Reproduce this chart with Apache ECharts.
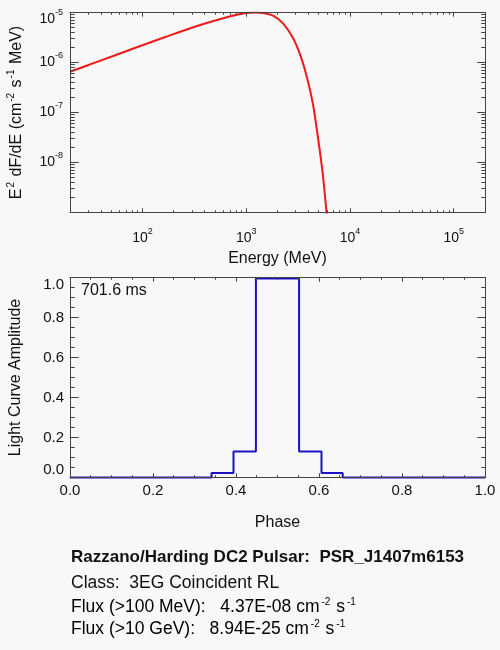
<!DOCTYPE html>
<html>
<head>
<meta charset="utf-8">
<script src="https://cdn.jsdelivr.net/npm/echarts@6/dist/echarts.min.js"></script>
<style>
  html, body { margin: 0; padding: 0; background: #f8f8f8; }
  #chart { width: 500px; height: 650px; }
</style>
</head>
<body>
<div id="chart"></div>
<script>
// spectrum (MeV, MeV cm^-2 s^-1)
var energy = [20, 37, 78, 163, 342, 718, 873, 1000, 1220, 1500, 1810, 2260, 2830, 3400, 3940, 4410, 4920, 5430, 5930, 6300];
var e2dnde = [6.55e-7, 1.04e-6, 1.84e-6, 3.19e-6, 5.44e-6, 8.5e-6, 9.3e-6, 9.77e-6, 1.0e-5, 9.7e-6, 8.63e-6, 6.08e-6, 3.05e-6, 1.21e-6, 4.13e-7, 1.41e-7, 3.05e-8, 6.55e-9, 1.04e-9, 2.5e-10];

// light curve steps
var phase = [0, 0.341, 0.394, 0.448, 0.552, 0.606, 0.657, 1.0];
var amplitude = [0, 0.023, 0.13, 0.995, 0.13, 0.023, 0, 0];

var periodText = "701.6 ms";
var infoTitle = "Razzano/Harding DC2 Pulsar:  PSR_J1407m6153";
var infoClass = "Class:  3EG Coincident RL";
var fluxLow = ["Flux (>100 MeV):", "4.37E-08"];
var fluxHigh = ["Flux (>10 GeV):", "8.94E-25"];

var FONT = "'Liberation Sans', Arial, Helvetica, sans-serif";
var INK = "#111";
var AXIS = "#444";

var myChart = echarts.init(document.getElementById("chart"));

function zip(xs, ys) {
  var out = [];
  for (var i = 0; i < xs.length; i++) {
    out.push([xs[i], ys[i]]);
  }
  return out;
}

function copyInto(target, src) {
  for (var k in src) {
    target[k] = src[k];
  }
  return target;
}

function powerLabel(value) {
  var e = Math.round(Math.log(value) / Math.LN10);
  if (Math.abs(value / Math.pow(10, e) - 1) > 1e-6) {
    return "";
  }
  return "{b|10}{s|" + e + "}";
}

var powerRich = {
  b: { fontSize: 14, lineHeight: 14, fontFamily: FONT, color: INK, verticalAlign: "bottom" },
  s: { fontSize: 9, lineHeight: 9, padding: [0, 0, 9, 0], fontFamily: FONT, color: INK, verticalAlign: "bottom" }
};

function frameAxis(scale, gridIndex, position) {
  return copyInto({
    gridIndex: gridIndex,
    position: position,
    axisLine: { show: true, onZero: false, lineStyle: { color: AXIS, width: 1 } },
    axisTick: { show: false },
    minorTick: { show: false },
    splitLine: { show: false },
    axisLabel: { show: false }
  }, scale);
}

// top panel scales
var xLog = { type: "log", logBase: 10, min: 20, max: 2e5 };
var yLog = { type: "log", logBase: 10, min: 1e-9, max: 1e-5 };
// bottom panel scales
var xLin = { type: "value", min: 0, max: 1, interval: 0.2 };
var yLin = { type: "value", min: 0, max: 1, interval: 0.2 };

function oneDecimal(v) {
  return v.toFixed(1);
}

var xTop = frameAxis(xLog, 0, "bottom");
xTop.axisLabel = { show: true, margin: 19, formatter: powerLabel, rich: powerRich, showMinLabel: false, showMaxLabel: false };
xTop.name = "Energy (MeV)";
xTop.nameLocation = "middle";
xTop.nameGap = 38;
xTop.nameTextStyle = { fontSize: 16, fontFamily: FONT, color: INK };

var yTop = frameAxis(yLog, 0, "left");
yTop.axisLabel = { show: true, margin: 7, formatter: powerLabel, rich: powerRich, showMinLabel: false, verticalAlignMaxLabel: "top" };
yTop.name = "{a|E}{s|2}{a| dF/dE (cm}{s|-2}{a| s}{s|-1}{a| MeV)}";
yTop.nameLocation = "middle";
yTop.nameGap = 45;
yTop.nameTextStyle = {
  rich: {
    a: { fontSize: 16, lineHeight: 16, fontFamily: FONT, color: INK, verticalAlign: "bottom" },
    s: { fontSize: 10, lineHeight: 10, padding: [0, 1, 9, 1], fontFamily: FONT, color: INK, verticalAlign: "bottom" }
  }
};

var xBot = frameAxis(xLin, 1, "bottom");
xBot.axisLabel = { show: true, margin: 6, formatter: oneDecimal, fontSize: 15, fontFamily: FONT, color: INK };
xBot.name = "Phase";
xBot.nameLocation = "middle";
xBot.nameGap = 37;
xBot.nameTextStyle = { fontSize: 16, fontFamily: FONT, color: INK };

var yBot = frameAxis(yLin, 1, "left");
yBot.axisLabel = {
  show: true, margin: 6, formatter: oneDecimal, fontSize: 15, fontFamily: FONT, color: INK,
  verticalAlignMaxLabel: "top", verticalAlignMinLabel: "bottom"
};
yBot.name = "Light Curve Amplitude";
yBot.nameLocation = "middle";
yBot.nameGap = 46;
yBot.nameTextStyle = { fontSize: 16, fontFamily: FONT, color: INK };

var supRich = {
  s: { fontSize: 10, lineHeight: 10, padding: [0, 1, 9, 2], fontFamily: FONT, color: INK, verticalAlign: "bottom" },
  t: { fontSize: 17.5, lineHeight: 17.5, fontFamily: FONT, color: INK, verticalAlign: "bottom" }
};

function fluxLine(parts) {
  return "{t|" + parts[0] + "   " + parts[1] + " cm}{s|-2}{t| s}{s|-1}";
}

var texts = [
  { type: "text", left: 81, top: 283, style: { text: periodText, font: "16px " + FONT, fill: INK } },
  { type: "text", left: 71, top: 549, style: { text: infoTitle, font: "bold 17px " + FONT, fill: INK } },
  { type: "text", left: 71, top: 574, style: { text: infoClass, font: "17.5px " + FONT, fill: INK } },
  { type: "text", left: 71, top: 597, style: { text: fluxLine(fluxLow), rich: supRich } },
  { type: "text", left: 71, top: 619, style: { text: fluxLine(fluxHigh), rich: supRich } }
];

var option = {
  backgroundColor: "#f8f8f8",
  animation: false,
  grid: [
    { left: 70, width: 415, top: 12.5, height: 200, outerBoundsMode: "none" },
    { left: 70, width: 415, top: 277.5, height: 200, outerBoundsMode: "none" }
  ],
  xAxis: [xTop, xBot, frameAxis(xLog, 0, "top"), frameAxis(xLin, 1, "top")],
  yAxis: [yTop, yBot, frameAxis(yLog, 0, "right"), frameAxis(yLin, 1, "right")],
  series: [
    {
      type: "line",
      xAxisIndex: 0,
      yAxisIndex: 0,
      data: zip(energy, e2dnde),
      smooth: 0.3,
      showSymbol: false,
      clip: true,
      z: 5,
      lineStyle: { color: "#f01818", width: 2 }
    },
    {
      type: "line",
      xAxisIndex: 1,
      yAxisIndex: 1,
      data: zip(phase, amplitude),
      step: "end",
      showSymbol: false,
      clip: false,
      z: 5,
      lineStyle: { color: "#1c12c4", width: 2 }
    }
  ],
  graphic: texts
};

myChart.setOption(option);

// IDL style ticks on all four sides, pointing into the box: [value, isMajor]
function logTicks(lo, hi) {
  var out = [];
  var n0 = Math.floor(Math.log(lo) / Math.LN10);
  var n1 = Math.ceil(Math.log(hi) / Math.LN10);
  for (var n = n0; n <= n1; n++) {
    for (var k = 1; k <= 9; k++) {
      var v = k * Math.pow(10, n);
      if (v > lo * 1.001 && v < hi * 0.999) out.push([v, k === 1]);
    }
  }
  return out;
}

function linTicks(lo, hi, minorStep, majorEvery) {
  var out = [];
  var count = Math.round((hi - lo) / minorStep);
  for (var i = 1; i < count; i++) {
    out.push([lo + i * minorStep, i % majorEvery === 0]);
  }
  return out;
}

function crisp(v) {
  return Math.round(v - 0.5) + 0.5;
}

// one polyline per side: runs along the border and spikes in at each tick
function sideLine(marks, horizontal, base, sign, start, end) {
  var pts = [];
  pts.push(horizontal ? [start, base] : [base, start]);
  for (var i = 0; i < marks.length; i++) {
    var p = marks[i][0];
    var tip = base + sign * marks[i][1];
    if (horizontal) {
      pts.push([p, base], [p, tip], [p, base]);
    } else {
      pts.push([base, p], [tip, p], [base, p]);
    }
  }
  pts.push(horizontal ? [end, base] : [base, end]);
  return {
    type: "polyline",
    silent: true,
    z: 50,
    shape: { points: pts },
    style: { fill: null, stroke: AXIS, lineWidth: 1, lineJoin: "bevel" }
  };
}

function boxTicks(xi, yi, xr, yr, xTicks, yTicks, xLen, yLen) {
  var left = crisp(myChart.convertToPixel({ xAxisIndex: xi }, xr[0]));
  var right = crisp(myChart.convertToPixel({ xAxisIndex: xi }, xr[1]));
  var bottom = crisp(myChart.convertToPixel({ yAxisIndex: yi }, yr[0]));
  var top = crisp(myChart.convertToPixel({ yAxisIndex: yi }, yr[1]));
  var xm = [];
  var ym = [];
  for (var i = 0; i < xTicks.length; i++) {
    xm.push([crisp(myChart.convertToPixel({ xAxisIndex: xi }, xTicks[i][0])), xTicks[i][1] ? xLen : xLen / 2]);
  }
  for (var j = 0; j < yTicks.length; j++) {
    ym.push([crisp(myChart.convertToPixel({ yAxisIndex: yi }, yTicks[j][0])), yTicks[j][1] ? yLen : yLen / 2]);
  }
  xm.sort(function (a, b) { return a[0] - b[0]; });
  ym.sort(function (a, b) { return a[0] - b[0]; });
  return [
    sideLine(xm, true, bottom, -1, left, right),
    sideLine(xm, true, top, 1, left, right),
    sideLine(ym, false, left, 1, top, bottom),
    sideLine(ym, false, right, -1, top, bottom)
  ];
}

var ticks = boxTicks(1, 1, [0, 1], [0, 1], linTicks(0, 1, 0.05, 4), linTicks(0, 1, 0.05, 4), 4, 8)
  .concat(boxTicks(0, 0, [xLog.min, xLog.max], [yLog.min, yLog.max], logTicks(xLog.min, xLog.max), logTicks(yLog.min, yLog.max), 4, 8));

myChart.setOption({ graphic: texts.concat(ticks) });
</script>
</body>
</html>
